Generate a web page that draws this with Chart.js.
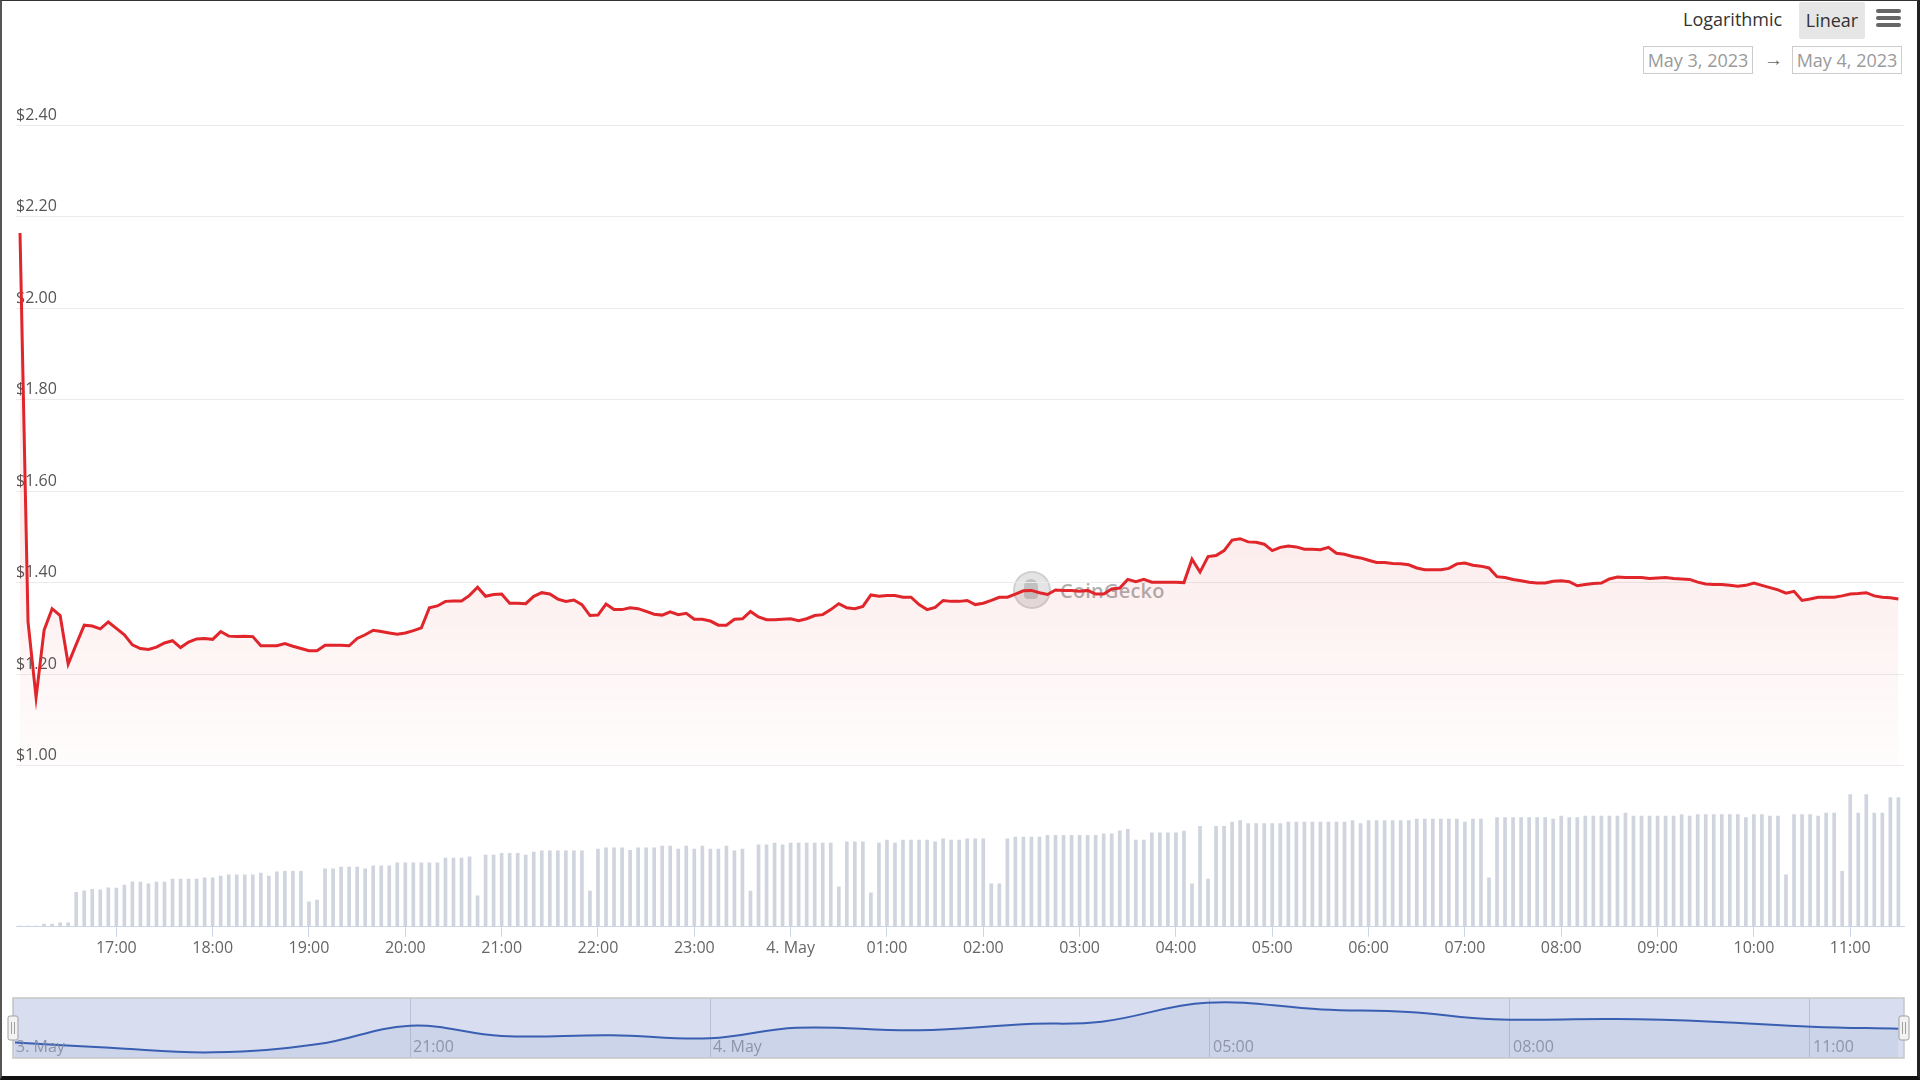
<!DOCTYPE html>
<html>
<head>
<meta charset="utf-8">
<script src="https://cdn.jsdelivr.net/npm/chart.js@4.4.0/dist/chart.umd.min.js"></script>
<style>
  body { margin: 0; width: 1920px; height: 1080px; background: #fff; overflow: hidden; position: relative; font-family: "Open Sans", "Noto Sans", sans-serif; }
  #frame { position: absolute; left: 0; top: 0; width: 1920px; height: 1080px; box-sizing: border-box; border-top: 1px solid #333; border-left: 2px solid #555; border-right: 3px solid #222; border-bottom: 4px solid #111; pointer-events: none; z-index: 10; }
  #mainWrap { position: absolute; left: 0; top: 0; width: 1920px; height: 960px; z-index: 2; }
  #navWrap { position: absolute; left: 0; top: 990px; width: 1920px; height: 80px; z-index: 2; }
  #watermark { position: absolute; left: 1013px; top: 570px; height: 40px; z-index: 1; display: flex; align-items: center; }
  #watermark .logo { width: 34px; height: 34px; border-radius: 50%; background: rgba(205,205,205,0.55); border: 2px solid rgba(190,190,190,0.5); position: relative; }
  #watermark .logo::after { content: ""; position: absolute; left: 9px; top: 6px; width: 14px; height: 20px; border-radius: 7px 7px 4px 4px; background: rgba(150,150,150,0.45); }
  #watermark span { margin-left: 9px; font-size: 20px; font-weight: 600; color: rgba(140,140,140,0.7); letter-spacing: 0.2px; }
  .btn { position: absolute; font-size: 18px; color: #333; line-height: 37px; }
  #logBtn { left: 1683px; top: 1px; }
  #linBtn { left: 1799px; top: 2px; width: 66px; height: 37px; background: #e6e6e6; text-align: center; border-radius: 2px; }
  .bar { position: absolute; left: 1876px; width: 25px; height: 4px; background: #666; border-radius: 2px; }
  .date { position: absolute; top: 46px; height: 28px; width: 110px; box-sizing: border-box; border: 1px solid #ccc; color: #9a9a9a; font-size: 18px; line-height: 26px; text-align: center; }
  #arrow { position: absolute; left: 1764px; top: 45px; line-height: 28px; font-size: 19px; color: #666; }
</style>
</head>
<body>
<div id="watermark"><div class="logo"></div><span>CoinGecko</span></div>
<div id="mainWrap"><canvas id="mainChart"></canvas></div>
<div id="navWrap"><canvas id="navChart"></canvas></div>
<div class="btn" id="logBtn">Logarithmic</div>
<div class="btn" id="linBtn">Linear</div>
<div class="bar" style="top:9px"></div>
<div class="bar" style="top:16px"></div>
<div class="bar" style="top:23px"></div>
<div class="date" style="left:1643px">May 3, 2023</div>
<div id="arrow">→</div>
<div class="date" style="left:1792px">May 4, 2023</div>
<div id="frame"></div>
<script>
// 5 minute samples, first one at 16:00 on 3 May (minutes since 3 May 00:00)
const startMinute = 960;
const stepMinutes = 5;

const prices = [
  2.164, 1.314, 1.149, 1.296, 1.343, 1.328, 1.222, 1.265, 1.307, 1.305,
  1.299, 1.314, 1.300, 1.286, 1.264, 1.256, 1.254, 1.259, 1.268, 1.273,
  1.258, 1.270, 1.277, 1.278, 1.276, 1.293, 1.283, 1.282, 1.283, 1.282,
  1.262, 1.262, 1.262, 1.267, 1.261, 1.256, 1.251, 1.251, 1.263, 1.263,
  1.263, 1.262, 1.278, 1.286, 1.296, 1.293, 1.290, 1.287, 1.290, 1.295,
  1.301, 1.345, 1.349, 1.359, 1.360, 1.360, 1.372, 1.390, 1.370, 1.374,
  1.375, 1.355, 1.355, 1.354, 1.370, 1.378, 1.375, 1.364, 1.359, 1.362,
  1.352, 1.328, 1.329, 1.353, 1.341, 1.341, 1.345, 1.343, 1.337, 1.331,
  1.329, 1.336, 1.330, 1.333, 1.320, 1.320, 1.316, 1.307, 1.307, 1.320,
  1.321, 1.337, 1.325, 1.319, 1.319, 1.320, 1.321, 1.317, 1.321, 1.328,
  1.330, 1.341, 1.354, 1.345, 1.343, 1.348, 1.373, 1.370, 1.372, 1.372,
  1.368, 1.368, 1.352, 1.341, 1.346, 1.361, 1.359, 1.359, 1.361, 1.352,
  1.355, 1.361, 1.368, 1.368, 1.375, 1.382, 1.383, 1.378, 1.374, 1.384,
  1.383, 1.383, 1.381, 1.383, 1.375, 1.375, 1.386, 1.388, 1.407, 1.402,
  1.407, 1.401, 1.401, 1.401, 1.401, 1.400, 1.451, 1.423, 1.457, 1.459,
  1.470, 1.493, 1.496, 1.489, 1.488, 1.484, 1.470, 1.477, 1.480, 1.478,
  1.473, 1.473, 1.472, 1.477, 1.464, 1.462, 1.457, 1.454, 1.449, 1.444,
  1.444, 1.442, 1.441, 1.439, 1.432, 1.428, 1.428, 1.428, 1.431, 1.441,
  1.443, 1.438, 1.436, 1.432, 1.413, 1.411, 1.407, 1.404, 1.401, 1.399,
  1.399, 1.403, 1.404, 1.402, 1.393, 1.396, 1.398, 1.399, 1.408, 1.412,
  1.411, 1.411, 1.411, 1.409, 1.410, 1.411, 1.409, 1.408, 1.407, 1.401,
  1.397, 1.396, 1.396, 1.394, 1.392, 1.394, 1.399, 1.394, 1.389, 1.384,
  1.377, 1.381, 1.361, 1.364, 1.368, 1.368, 1.368, 1.371, 1.375, 1.376,
  1.378, 1.371, 1.368, 1.367, 1.364
];

// volume in $M
const volumes = [
  0.2, 0.2, 0.2, 0.8, 0.8, 1.2, 1.2, 10.3, 10.8, 11.2,
  11.1, 11.7, 11.6, 12.5, 13.5, 13.4, 12.9, 13.4, 13.4, 14.3,
  14.3, 14.3, 14.3, 14.7, 14.7, 15.2, 15.6, 15.6, 15.6, 15.6,
  16.1, 15.2, 16.5, 16.6, 16.6, 16.6, 7.5, 8.0, 17.4, 17.4,
  17.9, 17.9, 17.9, 17.4, 18.3, 18.3, 18.3, 19.2, 19.2, 19.2,
  19.2, 19.2, 19.2, 20.6, 20.6, 20.6, 21.0, 9.3, 21.5, 21.5,
  22.0, 22.0, 22.0, 21.5, 22.4, 22.8, 22.8, 22.8, 22.8, 22.8,
  22.8, 10.7, 23.3, 23.7, 23.7, 23.7, 22.9, 23.7, 23.7, 23.7,
  24.2, 24.2, 23.3, 24.2, 23.3, 24.2, 23.3, 23.3, 24.2, 22.8,
  23.3, 10.7, 24.6, 24.6, 25.1, 24.6, 25.1, 25.1, 25.1, 25.1,
  25.1, 25.1, 12.0, 25.5, 25.5, 25.5, 10.2, 25.1, 26.0, 25.1,
  26.0, 26.0, 26.0, 26.0, 25.5, 26.4, 26.0, 26.0, 26.4, 26.4,
  26.4, 12.9, 12.9, 26.4, 26.9, 26.9, 26.9, 26.9, 27.4, 27.4,
  27.4, 27.4, 27.4, 27.4, 27.4, 27.9, 27.9, 28.8, 29.2, 26.0,
  26.0, 28.2, 28.2, 28.2, 28.2, 28.7, 12.9, 30.1, 14.3, 30.1,
  30.1, 31.4, 31.8, 30.9, 30.9, 30.9, 30.9, 30.9, 31.4, 31.4,
  31.4, 31.4, 31.4, 31.4, 31.4, 31.4, 31.8, 30.9, 31.8, 31.8,
  31.8, 31.8, 31.8, 31.8, 32.3, 32.3, 32.3, 32.3, 32.3, 32.3,
  31.4, 32.3, 32.3, 14.7, 32.7, 32.7, 32.7, 32.7, 32.7, 32.7,
  32.7, 32.3, 33.2, 32.7, 32.7, 33.2, 33.2, 33.2, 33.2, 33.2,
  34.1, 33.2, 33.2, 33.2, 33.2, 33.2, 33.2, 33.6, 33.2, 33.6,
  33.6, 33.6, 33.6, 33.6, 33.6, 32.7, 33.6, 33.6, 33.2, 33.2,
  15.6, 33.6, 33.6, 33.6, 33.2, 34.1, 34.1, 16.6, 39.6, 34.1,
  39.6, 34.1, 34.1, 38.7, 38.7
];

const priceTicks = [1.0, 1.2, 1.4, 1.6, 1.8, 2.0, 2.2, 2.4];
const hourTicks = [1020, 1080, 1140, 1200, 1260, 1320, 1380, 1440, 1500, 1560,
  1620, 1680, 1740, 1800, 1860, 1920, 1980, 2040, 2100];
const hourLabels = ['17:00', '18:00', '19:00', '20:00', '21:00', '22:00', '23:00', '4. May', '01:00', '02:00',
  '03:00', '04:00', '05:00', '06:00', '07:00', '08:00', '09:00', '10:00', '11:00'];

// navigator (overview) line
const navTimes = [1023, 1080, 1142, 1205, 1260, 1315, 1381, 1440, 1492, 1565,
  1631, 1675, 1738, 1807, 1859, 1910, 1984, 2042, 2101, 2153];
const navValues = [1.306, 1.281, 1.260, 1.298, 1.383, 1.336, 1.339, 1.325, 1.374, 1.362,
  1.391, 1.402, 1.490, 1.459, 1.447, 1.413, 1.414, 1.402, 1.379, 1.369];
const navTicks = [1021.8, 1260, 1440, 1740, 1920, 2100];
const navLabels = ['3. May', '21:00', '4. May', '05:00', '08:00', '11:00'];

Chart.defaults.font.family = "'Open Sans', 'Noto Sans', sans-serif";

const times = prices.map((p, i) => startMinute + i * stepMinutes);

function priceFill(context) {
    const chart = context.chart;
    if (!chart.chartArea) return 'rgba(0,0,0,0)';
    const top = chart.scales.y.getPixelForValue(1.5);
    const bottom = chart.scales.y.getPixelForValue(1.0);
    const g = chart.ctx.createLinearGradient(0, top, 0, bottom);
    g.addColorStop(0, 'rgba(226,40,44,0.085)');
    g.addColorStop(1, 'rgba(226,40,44,0.01)');
    return g;
}

new Chart(document.getElementById('mainChart'), {
    data: {
        datasets: [{
            type: 'line',
            data: times.map((t, i) => ({x: t, y: prices[i]})),
            yAxisID: 'y',
            borderColor: '#e0252b',
            borderWidth: 3,
            pointRadius: 0,
            tension: 0,
            fill: {value: 1.0},
            backgroundColor: priceFill,
            order: 0
        }, {
            type: 'bar',
            data: times.map((t, i) => ({x: t, y: volumes[i]})),
            yAxisID: 'yVol',
            backgroundColor: '#cfd4de',
            barThickness: 3,
            order: 1
        }]
    },
    options: {
        animation: false,
        responsive: true,
        maintainAspectRatio: false,
        layout: {padding: {top: 100, left: 16, right: 16, bottom: 0}},
        plugins: {legend: {display: false}, tooltip: {enabled: false}},
        scales: {
            x: {
                type: 'linear',
                offset: false,
                min: 957.5,
                max: 2133.5,
                afterBuildTicks: s => { s.ticks = hourTicks.map(v => ({value: v})); },
                ticks: {
                    callback: v => hourLabels[hourTicks.indexOf(v)],
                    color: '#666',
                    font: {size: 16},
                    maxRotation: 0,
                    autoSkip: false,
                    padding: 2
                },
                grid: {offset: false, drawOnChartArea: false, drawTicks: true, tickLength: 10, color: '#ccd6eb'},
                border: {display: true, color: '#ccd6eb'}
            },
            y: {
                position: 'left',
                min: 0.6478,
                max: 2.4547,
                afterBuildTicks: s => { s.ticks = priceTicks.map(v => ({value: v})); },
                ticks: {
                    mirror: true,
                    padding: 0,
                    labelOffset: -10,
                    callback: v => '$' + v.toFixed(2),
                    color: '#555',
                    font: {size: 16}
                },
                grid: {color: '#ebebeb', drawTicks: false},
                border: {display: false}
            },
            yVol: {
                display: false,
                min: 0,
                max: 247.8
            }
        }
    }
});

const navPlugin = {
    id: 'navDecor',
    beforeDraw(chart) {
        const {ctx, chartArea: a} = chart;
        ctx.save();
        ctx.fillStyle = 'rgb(216,222,239)';
        ctx.fillRect(a.left, a.top, a.right - a.left, a.bottom - a.top);
        ctx.restore();
    },
    afterDraw(chart) {
        const {ctx, chartArea: a, scales} = chart;
        ctx.save();
        ctx.strokeStyle = '#c6c6c6';
        ctx.lineWidth = 1.5;
        ctx.strokeRect(a.left, a.top, a.right - a.left, a.bottom - a.top);
        ctx.font = "16px 'Open Sans', sans-serif";
        ctx.fillStyle = 'rgba(130,138,158,0.85)';
        ctx.textBaseline = 'alphabetic';
        ctx.textAlign = 'left';
        navTicks.forEach((v, i) => {
            const x = scales.x.getPixelForValue(v);
            ctx.fillText(navLabels[i], x + 3, a.bottom - 6);
        });
        // handles
        const mid = (a.top + a.bottom) / 2;
        [a.left, a.right].forEach(x => {
            ctx.fillStyle = '#f2f2f2';
            ctx.strokeStyle = '#a0a0a0';
            ctx.lineWidth = 1;
            ctx.beginPath();
            ctx.roundRect(x - 5, mid - 12, 10, 24, 2);
            ctx.fill();
            ctx.stroke();
            ctx.beginPath();
            ctx.moveTo(x - 1.5, mid - 6); ctx.lineTo(x - 1.5, mid + 6);
            ctx.moveTo(x + 1.5, mid - 6); ctx.lineTo(x + 1.5, mid + 6);
            ctx.stroke();
        });
        ctx.restore();
    }
};

new Chart(document.getElementById('navChart'), {
    type: 'line',
    data: {
        datasets: [{
            data: navTimes.map((t, i) => ({x: t, y: navValues[i]})),
            borderColor: '#3a5fb2',
            borderWidth: 2,
            pointRadius: 0,
            tension: 0.4,
            fill: 'start',
            backgroundColor: 'rgba(51,92,173,0.07)'
        }]
    },
    options: {
        animation: false,
        responsive: true,
        maintainAspectRatio: false,
        layout: {padding: {top: 8, left: 13, right: 16, bottom: 12}},
        plugins: {legend: {display: false}, tooltip: {enabled: false}},
        scales: {
            x: {
                type: 'linear',
                min: 1021.8,
                max: 2156.4,
                afterBuildTicks: s => { s.ticks = navTicks.map(v => ({value: v})); },
                ticks: {display: false},
                grid: {drawTicks: false, color: 'rgba(150,160,190,0.45)'},
                border: {display: false}
            },
            y: {display: false, min: 1.2336, max: 1.5118}
        }
    },
    plugins: [navPlugin]
});
</script>
</body>
</html>
